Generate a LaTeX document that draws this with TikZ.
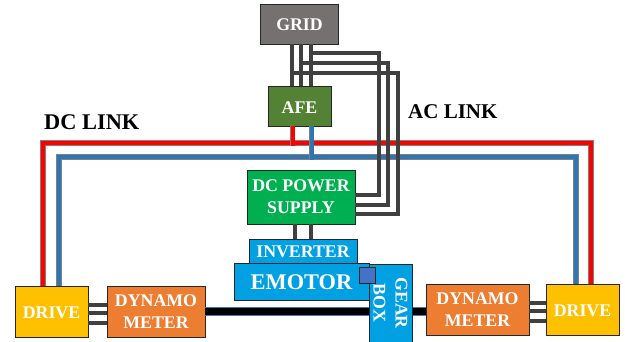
\documentclass[tikz,border=0pt]{standalone}
\usepackage{fontspec}
\setmainfont{Liberation Serif}
\usepackage{xcolor}
\usetikzlibrary{calc, positioning}
\definecolor{gridgray}{HTML}{767171}
\definecolor{afegreen}{HTML}{548235}
\definecolor{dcgreen}{HTML}{00B050}
\definecolor{motorblue}{HTML}{00A0E3}
\definecolor{dynorange}{HTML}{ED7D31}
\definecolor{driveyellow}{HTML}{FFC000}
\definecolor{linkblue}{HTML}{2E75B6}
\definecolor{squareblue}{HTML}{4472C4}

\begin{document}
\begin{tikzpicture}[
    x=1pt, y=-1pt,
    box/.style={draw=black!85, line width=1pt, outer sep=0pt, inner sep=0pt, align=center, text=white,
      font=\bfseries\fontsize{17.8}{22}\selectfont},
    oneline/.style={text height=14pt},
    linklabel/.style={inner sep=0pt, font=\bfseries\fontsize{21}{25}\selectfont},
    acline/.style={draw=black!50, double=black!75, line width=.7pt, double distance=3.2pt},
    redline/.style={draw=black!50, double=red, line width=.6pt, double distance=4pt},
    blueline/.style={draw=black!50, double=linkblue, line width=.6pt, double distance=4pt},
    shaftline/.style={draw=squareblue, double=black, line width=.6pt, double distance=7.5pt}
  ]
    \useasboundingbox (0,0) rectangle (625,341);

    \node[box, oneline, fill=gridgray, minimum width=78pt, minimum height=40pt] (GRID) at (299.5,24) {GRID};
    \node[box, oneline, fill=afegreen, minimum width=63pt, minimum height=40pt, below=42pt of GRID] (AFE) {AFE};
    \node[box, fill=dcgreen, minimum width=108pt, minimum height=54pt, below=44pt of AFE, xshift=1.5pt] (DCPS) {DC POWER\\SUPPLY};
    \node[box, oneline, fill=motorblue, minimum width=108pt, minimum height=24pt, below=15pt of DCPS, xshift=2pt] (INV) {INVERTER};
    \node[box, fill=motorblue, minimum width=135pt, minimum height=37pt, below=0pt of INV, xshift=-1.5pt,
      text height=16pt, font=\bfseries\fontsize{22.4}{26}\selectfont] (EMOTOR) {EMOTOR};

    \node[box, oneline, fill=driveyellow, minimum width=73pt, minimum height=51pt] (DRIVEL) at (51.5,311.5) {DRIVE};
    \node[box, fill=dynorange, minimum width=98pt, minimum height=51pt, right=19pt of DRIVEL] (DYNOL) {DYNAMO\\METER};
    \node[box, fill=dynorange, minimum width=103pt, minimum height=51pt] (DYNOR) at (477.5,309.5) {DYNAMO\\METER};
    \node[box, oneline, fill=driveyellow, minimum width=73pt, minimum height=51pt, right=17pt of DYNOR] (DRIVER) {DRIVE};

    \node[linklabel, anchor=west, font=\bfseries\fontsize{22.4}{26}\selectfont] (DCLABEL) at (44,122) {DC LINK};
    \node[linklabel, anchor=west] (ACLABEL) at (408,112) {AC LINK};

    % dc link
    \coordinate (redR) at (591,143);
    \coordinate (blueR) at (576,157);
    \coordinate (redT) at (292.5,146);
    \coordinate (blueT) at (311.5,160);
    \draw[redline] ($(DRIVEL.north)+(-8.5,0)$) |- (redR) -- ($(DRIVER.north)+(8.5,0)$);
    \draw[blueline] ($(DRIVEL.north)+(7.5,0)$) |- (blueR) -- ($(DRIVER.north)+(-6.5,0)$);
    \draw[redline] (AFE.south -| redT) -- (redT);
    \draw[blueline] (AFE.south -| blueT) -- (blueT);

    % ac link
    \coordinate (acA) at (379,53);
    \coordinate (acB) at (388,63);
    \coordinate (acC) at (398,73);
    \draw[acline] ($(GRID.south)+(-7.5,0)$) -- ($(AFE.north)+(-7.5,0)$);
    \draw[acline] ($(GRID.south)+(1.5,0)$) -- ($(AFE.north)+(1.5,0)$);
    \draw[acline] ($(GRID.south)+(11.5,0)$) -- ($(AFE.north)+(11.5,0)$);
    \draw[acline] ($(GRID.south)+(11.5,0)$) |- (acA) |- ($(DCPS.east)+(0,-2)$);
    \draw[acline] ($(GRID.south)+(1.5,0)$) |- (acB) |- ($(DCPS.east)+(0,8)$);
    \draw[acline] ($(GRID.south)+(-7.5,0)$) |- (acC) |- ($(DCPS.east)+(0,17)$);

    \draw[acline] ($(DCPS.south)+(-6,0)$) -- (INV.north -| {$(DCPS.south)+(-6,0)$});
    \draw[acline] ($(DCPS.south)+(10,0)$) -- (INV.north -| {$(DCPS.south)+(10,0)$});

    % drive to dynamometer
    \draw[acline] ($(DRIVEL.east)+(0,-6.5)$) -- ($(DYNOL.west)+(0,-6.5)$);
    \draw[acline] ($(DRIVEL.east)+(0,1.5)$) -- ($(DYNOL.west)+(0,1.5)$);
    \draw[acline] ($(DRIVEL.east)+(0,11.5)$) -- ($(DYNOL.west)+(0,11.5)$);
    \draw[acline] ($(DYNOR.east)+(0,-6.5)$) -- ($(DRIVER.west)+(0,-6.5)$);
    \draw[acline] ($(DYNOR.east)+(0,1.5)$) -- ($(DRIVER.west)+(0,1.5)$);
    \draw[acline] ($(DYNOR.east)+(0,11.5)$) -- ($(DRIVER.west)+(0,11.5)$);

    % shaft under the gear box
    \draw[shaftline] (DYNOL.east) -- (DYNOL.east -| DYNOR.west);

    \node[box, fill=motorblue, rotate=-90, minimum width=78pt, minimum height=43pt] (GEAR) at (390.5,303) {GEAR\\BOX};
    \node[draw=black!85, line width=1pt, fill=squareblue, minimum size=16pt, inner sep=0pt, outer sep=0pt] (COUPLER) at (367,275.5) {};
  \end{tikzpicture}
\end{document}
